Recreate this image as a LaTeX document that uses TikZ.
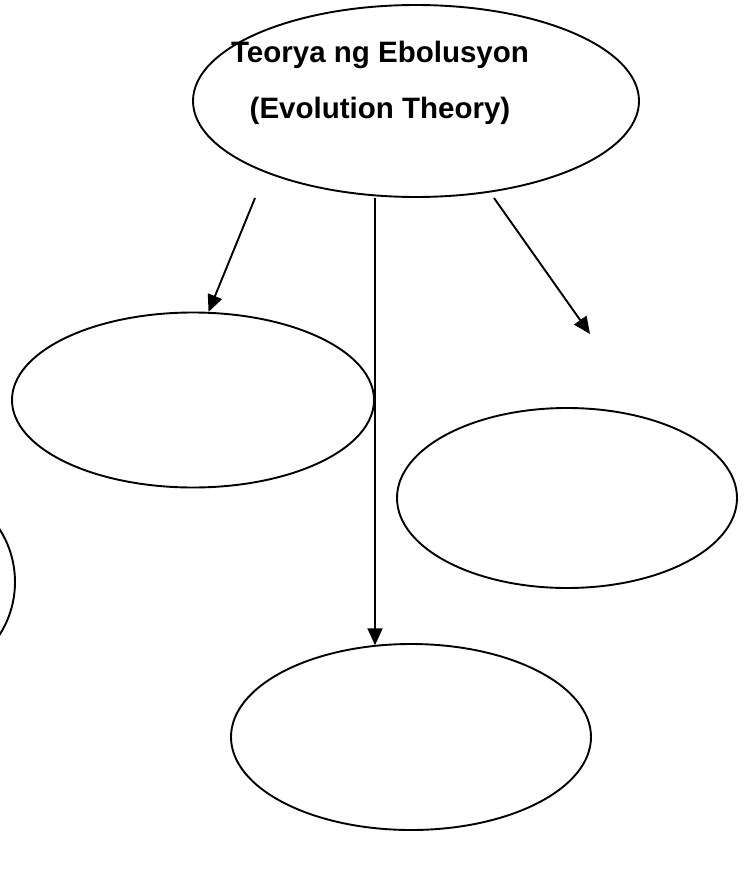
\documentclass[tikz,border=0pt]{standalone}
\usepackage{fontspec}
\setmainfont{Liberation Sans}
\usetikzlibrary{shapes.geometric,arrows.meta}
\tikzset{
  bubble/.style={draw, ellipse, line width=1.9pt, inner sep=0pt},
  link/.style={line width=1.9pt, -{Triangle[length=17pt,width=15pt]}}
}
\begin{document}
\begin{tikzpicture}[x=1pt,y=-1pt]
				\useasboundingbox (0,0) rectangle (746,874);
				\clip (0,0) rectangle (746,874);
				
				% main topic
				\node[bubble, minimum width=446pt, minimum height=192pt] (theory) at (416,101) {};
				\node[align=center, font=\bfseries\fontsize{29.5}{56}\selectfont] (theorytext) at (380,83)
				  {Teorya ng Ebolusyon\\(Evolution Theory)};
				
				% empty bubbles
				\node[bubble, minimum width=362pt, minimum height=175pt] (leftbubble) at (193,400) {};
				\node[bubble, minimum width=340pt, minimum height=180pt] (rightbubble) at (567,498) {};
				\node[bubble, minimum width=360pt, minimum height=186pt] (bottombubble) at (411,737) {};
				\node[bubble, minimum width=196pt, minimum height=196pt] (edgebubble) at (-83,582) {};
				
				% arrows
				\coordinate (leftstart) at (255,198);
				\coordinate (midstart) at (375,198);
				\coordinate (rightstart) at (494,198);
				\coordinate (rightend) at (590,334);
				\draw[link] (leftstart) -- (leftbubble.80);
				\draw[link] (midstart) -- (midstart |- bottombubble.113);
				\draw[link] (rightstart) -- (rightend);
			\end{tikzpicture}
\end{document}
